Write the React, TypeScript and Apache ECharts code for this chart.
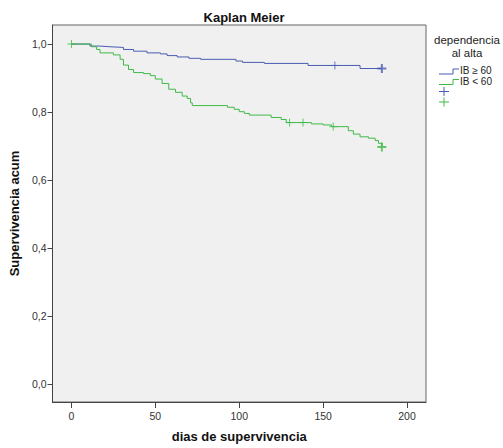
import React, { useEffect, useRef } from "react";
import * as echarts from "echarts";

const xTicks = [0, 50, 100, 150, 200];
const yTicks = [0, 0.2, 0.4, 0.6, 0.8, 1.0];

const blueTimes = [0, 11, 17, 23, 31, 37, 45, 53, 57, 63, 70, 77, 98, 102, 115, 141, 172, 185];
const blueSurv = [1.0, 0.994, 0.992, 0.99, 0.984, 0.979, 0.974, 0.971, 0.966, 0.962, 0.958, 0.955, 0.95, 0.946, 0.943, 0.937, 0.928, 0.928];
const blueCensT = [157, 185];
const blueCensS = [0.937, 0.928];

const greenTimes = [0, 12, 15, 17, 25, 29, 31, 34, 37, 43, 47, 50, 54, 58, 62, 66, 69, 71, 72, 93, 97, 100, 103, 106, 119, 125, 128, 143, 150, 155, 165, 168, 172, 177, 181, 183, 185];
const greenSurv = [1.0, 0.992, 0.984, 0.974, 0.968, 0.955, 0.938, 0.925, 0.916, 0.913, 0.907, 0.897, 0.884, 0.867, 0.858, 0.847, 0.84, 0.827, 0.819, 0.814, 0.808, 0.801, 0.796, 0.791, 0.784, 0.778, 0.769, 0.765, 0.762, 0.757, 0.745, 0.735, 0.727, 0.723, 0.716, 0.708, 0.697];
const greenCensT = [0, 130, 138, 156, 185];
const greenCensS = [1.0, 0.769, 0.769, 0.757, 0.697];

const BLUE = "#4a5cb4";
const GREEN = "#3fba47";
const FONT = "Liberation Sans, Arial, sans-serif";
const PLUS = "path://M5,0 L5,10 M0,5 L10,5";

export default function App() {
  const ref = useRef<HTMLDivElement>(null);
  useEffect(() => {
    const chart = echarts.init(ref.current!, null, { renderer: "svg" });
    const zip = (t: number[], s: number[]) => t.map((v, i) => [v, s[i]]);
    const cens = (t: number[], s: number[], color: string) =>
      t.map((v, i) => {
        const last = i === t.length - 1;
        return {
          value: [v, s[i]],
          symbolSize: last ? 9 : 8,
          itemStyle: { color: "transparent", borderColor: color, borderWidth: last ? 2 : 1 },
        };
      });
    const legendIcon = (y: number, color: string) => ({
      type: "polyline",
      shape: { points: [[439, y + 4], [453, y + 4], [453, y - 1], [459, y - 1]] },
      style: { stroke: color, lineWidth: 1, fill: null },
    });
    const plus = (y: number, color: string) => ({
      type: "group",
      children: [
        { type: "line", shape: { x1: 439, y1: y, x2: 449, y2: y }, style: { stroke: color, lineWidth: 1 } },
        { type: "line", shape: { x1: 444, y1: y - 4.5, x2: 444, y2: y + 4.5 }, style: { stroke: color, lineWidth: 1 } },
      ],
    });
    const legText = (y: number, t: string) => ({
      type: "text",
      x: 460,
      y,
      style: { text: t, font: `10px ${FONT}`, fill: "#222", verticalAlign: "middle", align: "left" },
    });
    chart.setOption({
      animation: false,
      backgroundColor: "#ffffff",
      title: {
        text: "Kaplan Meier",
        left: 239,
        top: 6,
        textAlign: "center",
        textStyle: { fontFamily: FONT, fontSize: 13, fontWeight: "bold", color: "#111" },
      },
      grid: {
        left: 52,
        right: 77,
        top: 25,
        bottom: 46,
        show: true,
        backgroundColor: "#f0f0f0",
        borderColor: "#666",
        borderWidth: 1,
      },
      xAxis: {
        type: "value",
        min: -11.3,
        max: 211.3,
        name: "dias de supervivencia",
        nameLocation: "middle",
        nameGap: 28,
        nameTextStyle: { fontFamily: FONT, fontSize: 13, fontWeight: "bold", color: "#111" },
        axisLine: { show: true, onZero: false, lineStyle: { color: "#444" } },
        axisTick: { show: true, length: 6, customValues: xTicks, lineStyle: { color: "#444" } },
        axisLabel: { customValues: xTicks, fontFamily: FONT, fontSize: 10.5, color: "#333", margin: 8 },
        splitLine: { show: false },
      },
      yAxis: {
        type: "value",
        min: -0.053,
        max: 1.056,
        name: "Supervivencia acum",
        nameLocation: "middle",
        nameGap: 28,
        nameTextStyle: { fontFamily: FONT, fontSize: 13, fontWeight: "bold", color: "#111" },
        axisLine: { show: true, onZero: false, lineStyle: { color: "#444" } },
        axisTick: { show: true, length: 5, customValues: yTicks, lineStyle: { color: "#444" } },
        axisLabel: {
          customValues: yTicks,
          fontFamily: FONT,
          fontSize: 10.5,
          color: "#333",
          margin: 6,
          formatter: (v: number) => v.toFixed(1).replace(".", ","),
        },
        splitLine: { show: false },
      },
      series: [
        {
          type: "line",
          step: "end",
          data: zip(blueTimes, blueSurv),
          showSymbol: false,
          lineStyle: { color: BLUE, width: 1 },
          itemStyle: { color: BLUE },
          z: 2,
        },
        {
          type: "line",
          step: "end",
          data: zip(greenTimes, greenSurv),
          showSymbol: false,
          lineStyle: { color: GREEN, width: 1 },
          itemStyle: { color: GREEN },
          z: 2,
        },
        {
          type: "scatter",
          symbol: PLUS,
          data: cens(blueCensT, blueCensS, BLUE),
          z: 3,
        },
        {
          type: "scatter",
          symbol: PLUS,
          data: cens(greenCensT, greenCensS, GREEN),
          z: 3,
        },
      ],
      graphic: [
        {
          type: "text",
          x: 467,
          y: 40,
          style: { text: "dependencia", font: `11.5px ${FONT}`, fill: "#222", align: "center", verticalAlign: "middle" },
        },
        {
          type: "text",
          x: 467,
          y: 52.5,
          style: { text: "al alta", font: `11.5px ${FONT}`, fill: "#222", align: "center", verticalAlign: "middle" },
        },
        legendIcon(70, BLUE),
        legText(70.5, "IB ≥ 60"),
        legendIcon(80.5, GREEN),
        legText(81, "IB < 60"),
        plus(91.5, BLUE),
        plus(102, GREEN),
      ],
    });
    return () => chart.dispose();
  }, []);
  return (
    <div
      ref={ref}
      style={{ position: "fixed", left: 0, top: 0, width: 503, height: 448 }}
    />
  );
}
